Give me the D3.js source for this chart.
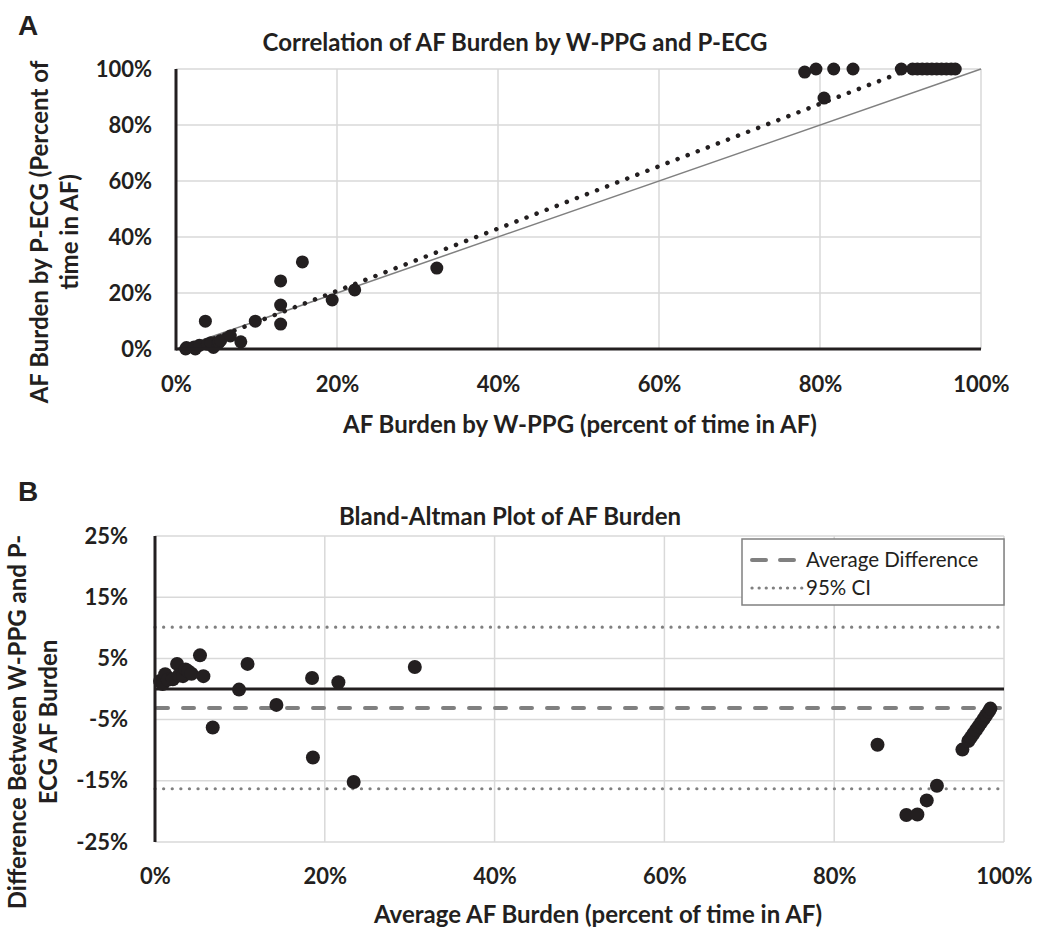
<!DOCTYPE html>
<html>
<head>
<meta charset="utf-8">
<script src="https://cdn.jsdelivr.net/npm/d3@7"></script>
<style>
  body { margin: 0; background: #fff; }
  svg { display: block; font-family: Lato, "Open Sans", sans-serif; }
</style>
</head>
<body>
<div id="chart"></div>
<script>
// Panel A: AF burden by W-PPG (x) vs P-ECG (y), percent
const ppgA = [1.2, 1.3, 2.4, 2.25, 2.9, 4.65, 3.9, 4.35, 5.2, 5.35, 5.55, 6.75, 8.05, 3.65, 9.85,
  13.0, 13.0, 13.0, 15.7, 19.4, 22.2, 32.4,
  78.1, 79.5, 81.7, 84.1, 80.5, 90.1,
  91.5, 92.1, 92.7, 93.3, 93.9, 94.5, 95.1, 95.7, 96.3, 96.8];
const ecgA = [0, 0.5, 0, 0.75, 1.3, 0.55, 1.7, 2.25, 2.0, 2.45, 3.05, 4.65, 2.55, 9.95, 9.95,
  24.3, 15.7, 8.9, 31.1, 17.5, 21.1, 28.9,
  98.9, 100, 100, 100, 89.6, 100,
  100, 100, 100, 100, 100, 100, 100, 100, 100, 100];
// linear trendline end points (x, y)
const trendX = [1.0, 91.2];
const trendY = [-0.4, 100];
const identity = [0, 100];

// Panel B: Bland-Altman, average burden vs difference
const avgB = [0.6, 0.9, 1.2, 1.5, 2.1, 2.6, 2.8, 3.3, 3.6, 3.9, 4.3, 5.7, 5.3, 6.8, 9.9,
  18.6, 14.3, 10.9, 23.4, 18.5, 21.6, 30.6,
  88.5, 89.8, 90.9, 92.1, 85.1, 95.1,
  95.8, 96.1, 96.4, 96.7, 97.0, 97.3, 97.6, 97.9, 98.2, 98.4];
const diffB = [1.3, 0.8, 2.4, 1.5, 1.6, 4.1, 2.2, 2.1, 3.2, 2.9, 2.5, 2.1, 5.5, -6.3, -0.1,
  -11.2, -2.6, 4.1, -15.2, 1.8, 1.1, 3.6,
  -20.6, -20.5, -18.2, -15.8, -9.1, -9.9,
  -8.5, -7.9, -7.3, -6.7, -6.1, -5.5, -4.9, -4.3, -3.7, -3.2];
const avgDiff = -3.1;
const ciUpper = 10.1;
const ciLower = -16.3;
const legendLabels = ["Average Difference", "95% CI"];

const ticksA = [0, 20, 40, 60, 80, 100];
const ticksBx = [0, 20, 40, 60, 80, 100];
const ticksBy = [25, 15, 5, -5, -15, -25];

const width = 1038, height = 929;
const ink = "#231f20";
const grid = "#d9d9d9";
const grey = "#808080";

const svg = d3.select("#chart").append("svg")
  .attr("width", width).attr("height", height);

const pct = d => d + "%";

function styleAxis(g) {
  g.select(".domain").remove();
  g.selectAll("text")
    .attr("font-size", 22).attr("font-weight", "bold").attr("fill", ink)
    .attr("font-family", "Lato, sans-serif");
}

// ---------- Panel A ----------
const xA = d3.scaleLinear().domain([0, 100]).range([176, 981]);
const yA = d3.scaleLinear().domain([0, 100]).range([349, 69]);

svg.append("text").attr("x", 18).attr("y", 35)
  .attr("font-family", "Liberation Sans, Arial, sans-serif")
  .attr("font-size", 28).attr("font-weight", "bold").attr("fill", ink).text("A");

// gridlines
svg.append("g").selectAll("line").data(ticksA.slice(1)).join("line")
  .attr("x1", xA(0)).attr("x2", xA(100))
  .attr("y1", d => yA(d)).attr("y2", d => yA(d))
  .attr("stroke", grid).attr("stroke-width", 1.5);
svg.append("g").selectAll("line").data(ticksA.slice(1)).join("line")
  .attr("x1", d => xA(d)).attr("x2", d => xA(d))
  .attr("y1", yA(0)).attr("y2", yA(100))
  .attr("stroke", grid).attr("stroke-width", 1.5);

// identity line
svg.append("line")
  .attr("x1", xA(identity[0])).attr("y1", yA(identity[0]))
  .attr("x2", xA(identity[1])).attr("y2", yA(identity[1]))
  .attr("stroke", grey).attr("stroke-width", 1.5);

// dotted trendline
svg.append("line")
  .attr("x1", xA(trendX[0])).attr("y1", yA(trendY[0]))
  .attr("x2", xA(trendX[1])).attr("y2", yA(trendY[1]))
  .attr("stroke", ink).attr("stroke-width", 4.5)
  .attr("stroke-linecap", "round").attr("stroke-dasharray", "0.1,10.7");

// axes
svg.append("g").attr("transform", `translate(0,${yA(0)})`)
  .call(d3.axisBottom(xA).tickValues(ticksA).tickFormat(pct).tickSize(0).tickPadding(27))
  .call(styleAxis);
svg.append("g").attr("transform", `translate(${xA(0)},0)`)
  .call(d3.axisLeft(yA).tickValues(ticksA).tickFormat(pct).tickSize(0).tickPadding(24))
  .call(styleAxis);

// points
svg.append("g").selectAll("circle").data(ppgA).join("circle")
  .attr("cx", d => xA(d)).attr("cy", (d, i) => yA(ecgA[i]))
  .attr("r", 6.5).attr("fill", ink);

svg.append("line").attr("x1", xA(0)).attr("x2", xA(0)).attr("y1", yA(100)).attr("y2", yA(0) + 1.5)
  .attr("stroke", ink).attr("stroke-width", 3);
svg.append("line").attr("x1", xA(0)).attr("x2", xA(100)).attr("y1", yA(0)).attr("y2", yA(0))
  .attr("stroke", ink).attr("stroke-width", 3);

// titles
svg.append("text").attr("x", 515).attr("y", 51).attr("text-anchor", "middle")
  .attr("font-size", 24).attr("font-weight", "bold").attr("fill", ink)
  .text("Correlation of AF Burden by W-PPG and P-ECG");
svg.append("text").attr("x", 580).attr("y", 433).attr("text-anchor", "middle")
  .attr("font-size", 24).attr("font-weight", "bold").attr("fill", ink)
  .text("AF Burden by W-PPG (percent of time in AF)");
const yTitleA = svg.append("text").attr("transform", "translate(0,232) rotate(-90)")
  .attr("text-anchor", "middle").attr("font-size", 24).attr("font-weight", "bold").attr("fill", ink);
yTitleA.append("tspan").attr("x", 0).attr("y", 48).text("AF Burden by P-ECG (Percent of");
yTitleA.append("tspan").attr("x", 0).attr("y", 78).text("time in AF)");

// ---------- Panel B ----------
const xB = d3.scaleLinear().domain([0, 100]).range([155, 1004]);
const yB = d3.scaleLinear().domain([-25, 25]).range([842, 536]);

svg.append("text").attr("x", 18).attr("y", 501)
  .attr("font-family", "Liberation Sans, Arial, sans-serif")
  .attr("font-size", 28).attr("font-weight", "bold").attr("fill", ink).text("B");

svg.append("g").selectAll("line").data(ticksBy).join("line")
  .attr("x1", xB(0)).attr("x2", xB(100))
  .attr("y1", d => yB(d)).attr("y2", d => yB(d))
  .attr("stroke", grid).attr("stroke-width", 1.5);
svg.append("g").selectAll("line").data(ticksBx.slice(1)).join("line")
  .attr("x1", d => xB(d)).attr("x2", d => xB(d))
  .attr("y1", yB(-25)).attr("y2", yB(25))
  .attr("stroke", grid).attr("stroke-width", 1.5);

svg.append("g").attr("transform", `translate(0,${yB(-25)})`)
  .call(d3.axisBottom(xB).tickValues(ticksBx).tickFormat(pct).tickSize(0).tickPadding(26))
  .call(styleAxis);
svg.append("g").attr("transform", `translate(${xB(0)},0)`)
  .call(d3.axisLeft(yB).tickValues(ticksBy).tickFormat(pct).tickSize(0).tickPadding(27))
  .call(styleAxis);

// zero line
svg.append("line").attr("x1", xB(0)).attr("x2", xB(100)).attr("y1", yB(0)).attr("y2", yB(0))
  .attr("stroke", ink).attr("stroke-width", 3);

// average difference and CI lines
svg.append("line").attr("x1", xB(0)).attr("x2", xB(100)).attr("y1", yB(avgDiff)).attr("y2", yB(avgDiff))
  .attr("stroke", grey).attr("stroke-width", 4).attr("stroke-linecap", "round")
  .attr("stroke-dasharray", "11,15").attr("stroke-dashoffset", -2);
[ciUpper, ciLower].forEach(v => {
  svg.append("line").attr("x1", xB(0)).attr("x2", xB(100)).attr("y1", yB(v)).attr("y2", yB(v))
    .attr("stroke", grey).attr("stroke-width", 3.2).attr("stroke-linecap", "round")
    .attr("stroke-dasharray", "0.1,8.5");
});

svg.append("g").selectAll("circle").data(avgB).join("circle")
  .attr("cx", d => xB(d)).attr("cy", (d, i) => yB(diffB[i]))
  .attr("r", 7).attr("fill", ink);

svg.append("line").attr("x1", xB(0)).attr("x2", xB(0)).attr("y1", yB(25)).attr("y2", yB(-25))
  .attr("stroke", ink).attr("stroke-width", 3);

// legend
const lg = svg.append("g");
lg.append("rect").attr("x", 742).attr("y", 539).attr("width", 262).attr("height", 66)
  .attr("fill", "#fff").attr("stroke", grey).attr("stroke-width", 1.5);
lg.append("line").attr("x1", 752).attr("x2", 799).attr("y1", 560).attr("y2", 560)
  .attr("stroke", grey).attr("stroke-width", 4).attr("stroke-linecap", "round")
  .attr("stroke-dasharray", "14,14");
lg.append("line").attr("x1", 752).attr("x2", 802).attr("y1", 588).attr("y2", 588)
  .attr("stroke", grey).attr("stroke-width", 3.2).attr("stroke-linecap", "round")
  .attr("stroke-dasharray", "0.1,7");
lg.selectAll("text").data(legendLabels).join("text")
  .attr("x", 806).attr("y", (d, i) => 567 + i * 28)
  .attr("font-size", 20.5).attr("fill", ink).text(d => d);

svg.append("text").attr("x", 510).attr("y", 525).attr("text-anchor", "middle")
  .attr("font-size", 24).attr("font-weight", "bold").attr("fill", ink)
  .text("Bland-Altman Plot of AF Burden");
svg.append("text").attr("x", 598).attr("y", 923).attr("text-anchor", "middle")
  .attr("font-size", 24).attr("font-weight", "bold").attr("fill", ink)
  .text("Average AF Burden (percent of time in AF)");
const yTitleB = svg.append("text").attr("transform", "translate(0,722) rotate(-90)")
  .attr("text-anchor", "middle").attr("font-size", 24).attr("font-weight", "bold").attr("fill", ink);
yTitleB.append("tspan").attr("x", 0).attr("y", 26).text("Difference Between W-PPG and P-");
yTitleB.append("tspan").attr("x", 0).attr("y", 57).text("ECG AF Burden");
</script>
</body>
</html>
